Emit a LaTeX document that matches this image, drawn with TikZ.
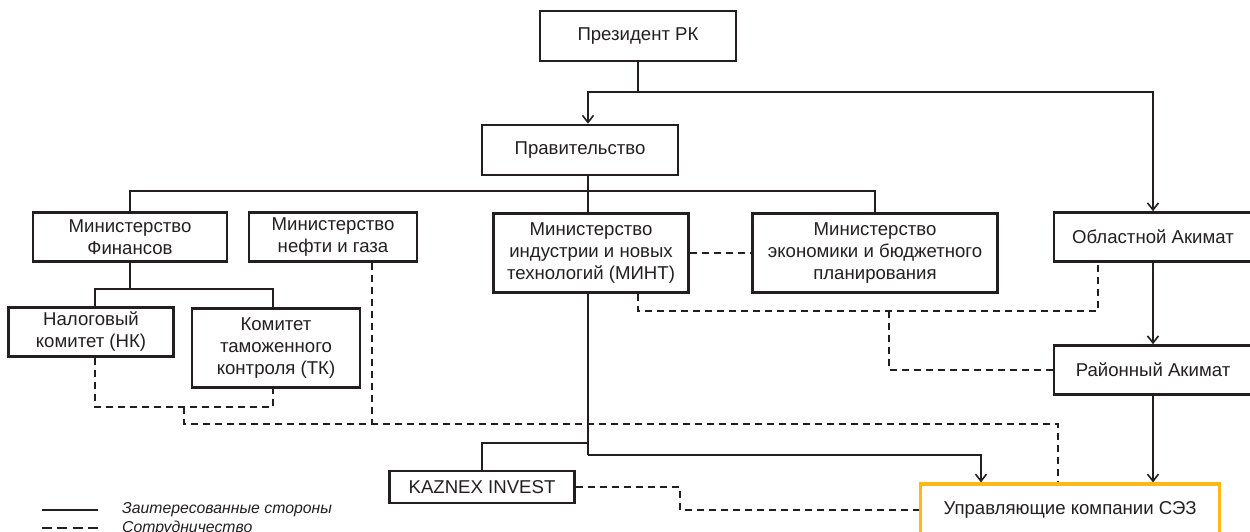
\documentclass[tikz,border=0pt]{standalone}
\usepackage{fontspec}
\setmainfont{Liberation Sans}
\usetikzlibrary{arrows.meta}
\definecolor{ink}{HTML}{231F20}
\definecolor{sezorange}{HTML}{FDB813}
\begin{document}
\begin{tikzpicture}[x=1pt,y=-1pt,
    orgbox/.style={draw=ink,line width=2.6pt,align=center,inner sep=0pt,text=ink,font=\fontsize{18.6}{22}\selectfont},
    link/.style={draw=ink,line width=1.6pt},
    coop/.style={draw=ink,line width=1.6pt,dash pattern=on 7pt off 5pt},
    tip/.style={-{Straight Barb[length=7pt,width=11pt]}},
    legtext/.style={anchor=west,inner sep=0pt,text=ink,font=\fontsize{15.8}{17}\selectfont\itshape}]
    \useasboundingbox (0,0) rectangle (1250,532);

    % boxes
    \node[orgbox,minimum width=196pt,minimum height=50pt] (pres) at (638,36) {Президент РК};
    \node[orgbox,minimum width=196pt,minimum height=50pt] (gov) at (580,150) {Правительство};
    \node[orgbox,minimum width=194pt,minimum height=49pt] (minfin) at (130,237) {Министерство\\Финансов};
    \node[orgbox,minimum width=168pt,minimum height=49pt] (minoil) at (333,237) {Министерство\\нефти и газа};
    \node[orgbox,minimum width=195pt,minimum height=79pt] (mint) at (591,253) {Министерство\\индустрии и новых\\технологий (МИНТ)};
    \node[orgbox,minimum width=245pt,minimum height=79pt] (minecon) at (875,253) {Министерство\\экономики и бюджетного\\планирования};
    \node[orgbox,minimum width=198pt,minimum height=49pt] (oblast) at (1153,237) {Областной Акимат};
    \node[orgbox,minimum width=198pt,minimum height=49pt] (rayon) at (1153,370) {Районный Акимат};
    \node[orgbox,minimum width=165pt,minimum height=49pt] (nk) at (91,332) {Налоговый\\комитет (НК)};
    \node[orgbox,minimum width=168pt,minimum height=79pt] (tk) at (276,348) {Комитет\\таможенного\\контроля (ТК)};
    \node[orgbox,minimum width=185pt,minimum height=32pt] (kaznex) at (482,487) {KAZNEX INVEST};
    \node[orgbox,draw=sezorange,line width=3.2pt,minimum width=299pt,minimum height=52pt] (uk) at (1070,510) {Управляющие компании СЭЗ};

    % solid links
    \coordinate (pj) at (638,92);
    \coordinate (gj) at (588,191);
    \coordinate (fj) at (130,289);
    \coordinate (mk) at (588,443);
    \coordinate (mu) at (588,455);
    \draw[link] (pres.south) -- (pj);
    \draw[link,tip] (pj) -| ([xshift=8pt]gov.north);
    \draw[link,tip] (pj) -| (oblast.north);
    \draw[link,tip] (oblast.south) -- (rayon.north);
    \draw[link,tip] (rayon.south) -- (rayon.south |- uk.north);
    \draw[link] (gov.south -| gj) -- (gj);
    \draw[link] (minfin.north) |- (gj) -| (minecon.north);
    \draw[link] (gj) -- (gj |- mint.north);
    \draw[link] (minfin.south) -- (fj);
    \draw[link] ([xshift=4pt]nk.north) |- (fj) -| ([xshift=-3pt]tk.north);
    \draw[link] (mint.south -| mk) -- (mu);
    \draw[link,tip] (mu) -| ([xshift=-89pt]uk.north);
    \draw[link] (mk) -| (kaznex.north);

    % cooperation
    \coordinate (c2) at (889,311);
    \coordinate (c3) at (184,407);
    \coordinate (c4) at (372,424);
    \draw[coop] (mint.east) -- (minecon.west);
    \draw[coop] ([xshift=47pt]mint.south) -- ++(0,17) -| ([xshift=-55pt]oblast.south);
    \draw[coop] (c2) |- (rayon.west);
    \draw[coop] ([xshift=4pt]nk.south) -- ++(0,49) -| ([xshift=-3pt]tk.south);
    \draw[coop] (c3) -- ++(0,17) -| ([xshift=-12pt]uk.north);
    \draw[coop] (minoil.south -| c4) -- (c4);
    \draw[coop] (kaznex.east) -- ++(104,0) |- (uk.west);

    % legend
    \coordinate (l1) at (42,510);
    \coordinate (l2) at (42,528);
    \node[legtext] (leg1) at (122,510) {Заитересованные стороны};
    \node[legtext] (leg2) at (122,528) {Сотрудничество};
    \draw[link] (l1) -- ++(56,0);
    \draw[link,dash pattern=on 10pt off 5.3pt] (l2) -- ++(56,0);
\end{tikzpicture}
\end{document}
